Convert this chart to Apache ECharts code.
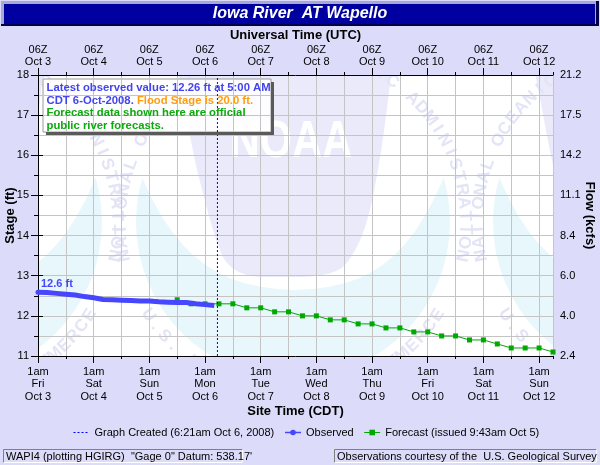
<!DOCTYPE html>
<html><head><meta charset="utf-8">
<script src="https://cdn.jsdelivr.net/npm/echarts@6/dist/echarts.min.js"></script>
<style>html,body{margin:0;padding:0;background:#dcdcfa}#c{width:600px;height:465px}</style>
</head><body><div id="c"></div>
<script>
// ---------- data ----------
const titleText = 'Iowa River  AT Wapello';
// hours since Fri Oct 3, 1am CDT (06Z)
const obsHours  = [0, 4, 8, 12, 16, 20, 24, 28, 32, 36, 40, 44, 48, 52, 56, 60, 64, 68, 72, 76];
const obsStage  = [12.59, 12.58, 12.56, 12.54, 12.52, 12.48, 12.45, 12.41, 12.40, 12.39, 12.38, 12.37, 12.37, 12.35, 12.34, 12.33, 12.33, 12.30, 12.28, 12.26];
const fcstHours = [60, 66, 72, 78, 84, 90, 96, 102, 108, 114, 120, 126, 132, 138, 144, 150, 156, 162, 168, 174, 180, 186, 192, 198, 204, 210, 216, 222];
const fcstStage = [12.4, 12.3, 12.3, 12.3, 12.3, 12.2, 12.2, 12.1, 12.1, 12.0, 12.0, 11.9, 11.9, 11.8, 11.8, 11.7, 11.7, 11.6, 11.6, 11.5, 11.5, 11.4, 11.4, 11.3, 11.2, 11.2, 11.2, 11.1];
const createdHour = 77.35; // 6:21am CDT Oct 6
const xMax = 222;
const dayTicks = [0, 24, 48, 72, 96, 120, 144, 168, 192, 216];
const dayNames = ['Fri', 'Sat', 'Sun', 'Mon', 'Tue', 'Wed', 'Thu', 'Fri', 'Sat', 'Sun'];
const dayDates = ['Oct 3', 'Oct 4', 'Oct 5', 'Oct 6', 'Oct 7', 'Oct 8', 'Oct 9', 'Oct 10', 'Oct 11', 'Oct 12'];
const localHourLabel = '1am';
const utcHourLabel = '06Z';
const stageTicks = [11, 12, 13, 14, 15, 16, 17, 18];
const flowLabels = ['2.4', '4.0', '6.0', '8.4', '11.1', '14.2', '17.5', '21.2'];
const floodStage = '20.0';
const latestTime = '5:00 AM CDT 6-Oct-2008';
const obsName = 'Observed';
const fcstName = 'Forecast (issued 9:43am Oct 5)';
const createdName = 'Graph Created (6:21am Oct 6, 2008)';
const footLeft = 'WAPI4 (plotting HGIRG)  "Gage 0" Datum: 538.17\'';
const footRight = 'Observations courtesy of the  U.S. Geological Survey';

// ---------- style ----------
const FONT = '"Liberation Sans", Arial, sans-serif';
const BG = '#dcdcfa';
const GRIDC = '#c4c4c4';
const BLUE = '#4646ff';
const GREEN = '#00a800';
const DOTC = '#0000ff';
const PL = 38, PR = 553, PT = 75, PB = 356;

// ---------- watermark (decoration) ----------
const WM_LAV = '#eaeafa', WM_CYAN = '#e7f7fc', WM_TXT = '#e4e4f7';
function sampleShape(cmds, cx, cy) {
  const pts = []; let cur = [0, 0];
  const N = 14;
  cmds.forEach(c => {
    if (c[0] === 'M' || c[0] === 'L') { cur = [c[1], c[2]]; pts.push([cx + cur[0], cy + cur[1]]); }
    else if (c[0] === 'Q') {
      const p0 = cur, p1 = [c[1], c[2]], p2 = [c[3], c[4]];
      for (let k = 1; k <= N; k++) { const t = k / N, u = 1 - t;
        pts.push([cx + u*u*p0[0] + 2*u*t*p1[0] + t*t*p2[0], cy + u*u*p0[1] + 2*u*t*p1[1] + t*t*p2[1]]); }
      cur = p2;
    } else if (c[0] === 'C') {
      const p0 = cur, p1 = [c[1], c[2]], p2 = [c[3], c[4]], p3 = [c[5], c[6]];
      for (let k = 1; k <= N; k++) { const t = k / N, u = 1 - t;
        pts.push([cx + u*u*u*p0[0] + 3*u*u*t*p1[0] + 3*u*t*t*p2[0] + t*t*t*p3[0],
                  cy + u*u*u*p0[1] + 3*u*u*t*p1[1] + 3*u*t*t*p2[1] + t*t*t*p3[1]]); }
      cur = p3;
    }
  });
  return pts;
}
const GULL = [['M', -193, -200], ['L', 193, -200], ['L', 193, -82], ['L', 165, -82],
  ['C', 127, 28, 87, 66, 2, 68], ['C', -83, 66, -128, 28, -165, -82], ['L', -193, -82]];
const DARK = [['M', -123, -182], ['L', 105, -182], ['L', 98, -148],
  ['C', 93, -102, 87, -62, 83, -42], ['C', 77, -7, 69, 23, 52, 43], ['Q', 42, 54, 7, 55], ['L', -31, 55],
  ['Q', -61, 54, -71, 33], ['C', -81, 10, -88, -22, -95, -48], ['C', -103, -82, -109, -122, -115, -148]];
function logo(cx, cy) {
  const els = [];
  els.push({type: 'circle', z: -25, shape: {cx: cx, cy: cy, r: 157}, style: {fill: WM_CYAN}});
  els.push({type: 'polygon', z: -24, shape: {points: sampleShape(GULL, cx, cy)}, style: {fill: '#ffffff'}});
  els.push({type: 'polygon', z: -23, shape: {points: sampleShape(DARK, cx, cy)}, style: {fill: WM_LAV}});
  els.push({type: 'text', z: -22, x: cx - 2, y: cy - 79, scaleX: 0.8,
    style: {text: 'NOAA', fill: '#ffffff', font: 'bold 52px ' + FONT, align: 'center', verticalAlign: 'middle'}});
  const r = 172, step = 4.4;
  const top = 'NATIONAL OCEANIC AND ATMOSPHERIC ADMINISTRATION';
  const start = 270 - step * (top.length - 1) / 2;
  for (let i = 0; i < top.length; i++) {
    const th = start + i * step, rad = th * Math.PI / 180;
    els.push({type: 'text', z: -21, x: cx + r * Math.cos(rad), y: cy + r * Math.sin(rad),
      rotation: (270 - th) * Math.PI / 180,
      style: {text: top[i], fill: WM_TXT, font: 'bold 17px ' + FONT, align: 'center', verticalAlign: 'middle'}});
  }
  const bot = 'U.S. DEPARTMENT OF COMMERCE';
  const bstart = 90 + step * (bot.length - 1) / 2;
  for (let i = 0; i < bot.length; i++) {
    const th = bstart - i * step, rad = th * Math.PI / 180;
    els.push({type: 'text', z: -21, x: cx + r * Math.cos(rad), y: cy + r * Math.sin(rad),
      rotation: (90 - th) * Math.PI / 180,
      style: {text: bot[i], fill: WM_TXT, font: 'bold 17px ' + FONT, align: 'center', verticalAlign: 'middle'}});
  }
  return els;
}

const graphics = [];
graphics.push({type: 'rect', z: -30, shape: {x: PL, y: PT, width: PR - PL, height: PB - PT}, style: {fill: '#ffffff'}});
[[-55, 222], [293, 222], [650, 222]].forEach(c => logo(c[0], c[1]).forEach(e => graphics.push(e)));
// masks outside plot
[[0, 0, 600, PT], [0, PB, 600, 465 - PB], [0, 0, PL, 465], [PR, 0, 600 - PR, 465]].forEach(m =>
  graphics.push({type: 'rect', z: -5, shape: {x: m[0], y: m[1], width: m[2], height: m[3]}, style: {fill: BG}}));

// title bar
graphics.push({type: 'rect', z: 10, shape: {x: 1, y: 1, width: 598, height: 25}, style: {fill: '#000048'}});
graphics.push({type: 'rect', z: 10, shape: {x: 1, y: 1, width: 595, height: 23}, style: {fill: '#a8a8d8'}});
graphics.push({type: 'rect', z: 10, shape: {x: 4, y: 4, width: 591, height: 20}, style: {fill: '#0000a0'}});
graphics.push({type: 'text', z: 11, x: 300, y: 14, style: {text: titleText, fill: '#ffffff',
  font: 'italic bold 16px ' + FONT, align: 'center', verticalAlign: 'middle'}});

// annotation box
const AF = 11.3;
graphics.push({type: 'rect', z: -4, shape: {x: 43, y: 79, width: 228, height: 53}, style: {fill: 'rgba(255,255,255,0.88)', stroke: '#9a9a9a', lineWidth: 1}});
graphics.push({type: 'rect', z: 9, shape: {x: 271, y: 82, width: 3, height: 53}, style: {fill: '#5a5a5a'}});
graphics.push({type: 'rect', z: 9, shape: {x: 46, y: 132, width: 228, height: 3}, style: {fill: '#5a5a5a'}});
const latestVal = obsStage[obsStage.length - 1].toFixed(2);
const tParts = latestTime.split(' ');
graphics.push({type: 'text', z: 10, x: 46.5, y: 81.5, style: {
  text: '{b|Latest observed value: ' + latestVal + ' ft at ' + tParts[0] + ' ' + tParts[1] + '}\n' +
        '{b|' + tParts[2] + ' ' + tParts[3] + '. }{o|Flood Stage is ' + floodStage + ' ft.}\n' +
        '{g|Forecast data shown here are official}\n{g|public river forecasts.}',
  align: 'left', verticalAlign: 'top', lineHeight: 12.7,
  fontSize: AF, fontWeight: 'bold', fontFamily: FONT,
  rich: {
    b: {fill: '#4444ee', fontSize: AF, fontWeight: 'bold', fontFamily: FONT, lineHeight: 12.7},
    o: {fill: '#ff9e10', fontSize: AF, fontWeight: 'bold', fontFamily: FONT, lineHeight: 12.7},
    g: {fill: '#10a810', fontSize: AF, fontWeight: 'bold', fontFamily: FONT, lineHeight: 12.7}
  }}});

// footer boxes
function footBox(x, w, txt) {
  graphics.push({type: 'rect', z: 10, shape: {x: x + 0.5, y: 449.5, width: w, height: 13}, style: {fill: BG, stroke: '#808080', lineWidth: 1}});
  graphics.push({type: 'polyline', z: 10, shape: {points: [[x + 0.5, 462.5], [x + w + 0.5, 462.5], [x + w + 0.5, 449.5]]}, style: {stroke: '#ffffff', lineWidth: 1, fill: null}});
  graphics.push({type: 'text', z: 11, x: x + 3, y: 456.5, style: {text: txt, fill: '#000', font: '11px ' + FONT, align: 'left', verticalAlign: 'middle'}});
}
footBox(3, 239, footLeft);
footBox(334, 262, footRight);

// ---------- axes ----------
const labelBase = {fontFamily: FONT, fontSize: 11, color: '#000'};
const nameStyle = {fontFamily: FONT, fontSize: 13, fontWeight: 'bold', color: '#000'};
function dayIdx(v) { return dayTicks.indexOf(Math.round(v)); }
const xCommon = {type: 'value', min: 0, max: xMax, gridIndex: 0};
const xAxes = [
  Object.assign({}, xCommon, {position: 'bottom', interval: 24,
    axisLine: {show: true, lineStyle: {color: '#000', width: 1}},
    axisTick: {show: true, customValues: dayTicks, length: 7, lineStyle: {color: '#000'}},
    axisLabel: Object.assign({}, labelBase, {customValues: dayTicks, margin: 9.5, lineHeight: 12.5,
      formatter: v => { const i = dayIdx(v); return (i < 0 || v !== dayTicks[i]) ? '' : localHourLabel + '\n' + dayNames[i] + '\n' + dayDates[i]; }}),
    splitLine: {show: false},
    name: 'Site Time (CDT)', nameLocation: 'middle', nameGap: 49, nameMoveOverlap: false,
    nameTextStyle: nameStyle}),
  Object.assign({}, xCommon, {position: 'bottom', interval: 12,
    axisLine: {show: false}, axisLabel: {show: false},
    axisTick: {show: true, length: 3, lineStyle: {color: '#000'}},
    splitLine: {show: true, lineStyle: {color: GRIDC, width: 1}}}),
  Object.assign({}, xCommon, {position: 'top', interval: 24,
    axisLine: {show: true, lineStyle: {color: '#000', width: 1}},
    axisTick: {show: true, customValues: dayTicks, length: 7, lineStyle: {color: '#000'}},
    axisLabel: Object.assign({}, labelBase, {customValues: dayTicks, margin: 7, lineHeight: 12,
      formatter: v => { const i = dayIdx(v); return (i < 0 || v !== dayTicks[i]) ? '' : utcHourLabel + '\n' + dayDates[i]; }}),
    splitLine: {show: false},
    name: 'Universal Time (UTC)', nameLocation: 'middle', nameGap: 33, nameMoveOverlap: false,
    nameTextStyle: nameStyle}),
  Object.assign({}, xCommon, {position: 'top', interval: 12,
    axisLine: {show: false}, axisLabel: {show: false},
    axisTick: {show: true, length: 3, lineStyle: {color: '#000'}},
    splitLine: {show: false}})
];
const yAxes = [
  {type: 'value', position: 'left', min: stageTicks[0], max: stageTicks[stageTicks.length - 1], interval: 1,
    axisLine: {show: true, lineStyle: {color: '#000'}},
    axisTick: {show: true, length: 7, lineStyle: {color: '#000'}},
    minorTick: {show: true, splitNumber: 2, length: 4, lineStyle: {color: '#000'}},
    axisLabel: Object.assign({}, labelBase, {margin: 9, formatter: v => String(v)}),
    splitLine: {show: true, lineStyle: {color: GRIDC, width: 1}},
    minorSplitLine: {show: true, lineStyle: {color: GRIDC, width: 1}},
    name: 'Stage (ft)', nameLocation: 'middle', nameGap: 21, nameMoveOverlap: false,
    nameTextStyle: nameStyle},
  {type: 'value', position: 'right', min: stageTicks[0], max: stageTicks[stageTicks.length - 1], interval: 1,
    axisLine: {show: true, lineStyle: {color: '#000'}},
    axisTick: {show: true, length: 5, lineStyle: {color: '#000'}},
    axisLabel: Object.assign({}, labelBase, {margin: 7, formatter: v => flowLabels[stageTicks.indexOf(v)] || ''}),
    splitLine: {show: false},
    name: 'Flow (kcfs)', nameLocation: 'middle', nameGap: 30, nameRotate: -90, nameMoveOverlap: false,
    nameTextStyle: nameStyle}
];

// ---------- series ----------
const obsData = obsHours.map((h, i) => i === 0
  ? {value: [h, obsStage[i]], symbol: 'circle', symbolSize: 5,
     label: {show: true, position: 'top', align: 'left', distance: 0, offset: [3, 0],
       formatter: p => p.value[1].toFixed(1) + ' ft', color: BLUE, fontFamily: FONT, fontSize: 11, fontWeight: 'bold'}}
  : {value: [h, obsStage[i]], symbol: 'none'});
const fcstData = fcstHours.map((h, i) => [h, fcstStage[i]]);

const option = {
  backgroundColor: BG,
  animation: false,
  grid: {left: PL, right: 600 - PR, top: PT, bottom: 465 - PB, containLabel: false, outerBoundsMode: 'none'},
  xAxis: xAxes,
  yAxis: yAxes,
  legend: {left: 73, top: 427, padding: 0, itemGap: 10, itemWidth: 16, itemHeight: 7,
    textStyle: {fontFamily: FONT, fontSize: 11, color: '#000'},
    data: [
      {name: createdName, itemStyle: {opacity: 0}, lineStyle: {type: [2, 2], width: 1, color: DOTC}},
      {name: obsName, lineStyle: {width: 1.5, color: BLUE}},
      {name: fcstName, lineStyle: {width: 1, color: GREEN}}
    ]},
  graphic: {elements: graphics},
  series: [
    {name: fcstName, type: 'line', xAxisIndex: 1, yAxisIndex: 0, z: 2, data: fcstData,
      symbol: 'rect', symbolSize: 5, showSymbol: true,
      lineStyle: {color: GREEN, width: 1}, itemStyle: {color: GREEN}},
    {name: obsName, type: 'line', xAxisIndex: 1, yAxisIndex: 0, z: 3, data: obsData,
      symbol: 'circle', symbolSize: 5, showSymbol: true,
      lineStyle: {color: BLUE, width: 5, join: 'miter'}, itemStyle: {color: BLUE}},
    {name: createdName, type: 'line', xAxisIndex: 1, yAxisIndex: 0, z: 4,
      data: [[createdHour, stageTicks[0]], [createdHour, stageTicks[stageTicks.length - 1]]],
      symbol: 'none', lineStyle: {color: DOTC, width: 1, type: [2, 2]}, itemStyle: {color: DOTC}}
  ]
};
const chart = echarts.init(document.getElementById('c'), null, {renderer: 'canvas'});
chart.setOption(option);
</script>
</body></html>
